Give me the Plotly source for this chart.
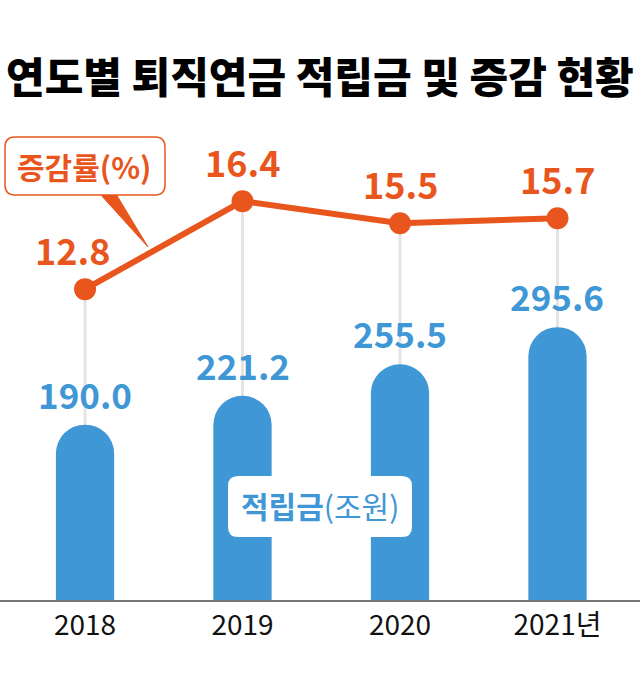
import plotly.graph_objects as go

years = ["2018", "2019", "2020", "2021년"]
reserve = [190.0, 221.2, 255.5, 295.6]      # 적립금(조원)
growth = [12.8, 16.4, 15.5, 15.7]           # 증감률(%)

title_text = "연도별 퇴직연금 적립금 및 증감 현황"
growth_label = "증감률(%)"
reserve_label = "<b>적립금</b>(조원)"

BLUE = "#3f97d6"
ORANGE = "#e8561e"
FONT = "Noto Sans CJK KR"

W, H = 640, 675
ML, MR, MT, MB = 0, 0, 100, 75
PH = H - MT - MB


def px_x(px):
    return (px - ML) / (W - ML - MR)


def px_y(py):
    return (H - MB - py) / PH


xs = list(range(len(years)))

fig = go.Figure()

fig.add_trace(go.Bar(
    x=xs, y=reserve, yaxis="y", width=0.37,
    marker=dict(color=BLUE, cornerradius="50%", line=dict(width=0)),
    showlegend=False, hoverinfo="skip",
))

fig.add_trace(go.Scatter(
    x=xs, y=growth, yaxis="y2", mode="lines+markers",
    line=dict(color=ORANGE, width=6),
    marker=dict(color=ORANGE, size=22),
    showlegend=False, hoverinfo="skip",
))

shapes = []
for x, g in zip(xs, growth):
    shapes.append(dict(type="line", xref="x", yref="y2", x0=x, x1=x, y0=0, y1=g,
                       line=dict(color="#e4e4e4", width=3), layer="below"))

shapes.append(dict(type="path", xref="paper", yref="paper",
                   path=f"M {px_x(100)},{px_y(194)} L {px_x(148)},{px_y(247)} L {px_x(116)},{px_y(194)} Z",
                   fillcolor=ORANGE, line=dict(color=ORANGE, width=1), layer="above"))


def rounded(x0p, x1p, y0p, y1p, r=10):
    x0, x1, y0, y1 = px_x(x0p), px_x(x1p), px_y(y1p), px_y(y0p)
    rx, ry = r / (W - ML - MR), r / PH
    return (f"M {x0+rx},{y0} L {x1-rx},{y0} Q {x1},{y0} {x1},{y0+ry} L {x1},{y1-ry} "
            f"Q {x1},{y1} {x1-rx},{y1} L {x0+rx},{y1} Q {x0},{y1} {x0},{y1-ry} "
            f"L {x0},{y0+ry} Q {x0},{y0} {x0+rx},{y0} Z")


shapes.append(dict(type="path", xref="paper", yref="paper", path=rounded(5, 165, 137, 195),
                   fillcolor="white", line=dict(color=ORANGE, width=1.5), layer="above"))
shapes.append(dict(type="path", xref="paper", yref="paper", path=rounded(228, 412, 476, 537),
                   fillcolor="white", line=dict(color="white", width=0), layer="above"))

annotations = []
annotations.append(dict(xref="paper", yref="paper", x=0.5, y=px_y(75), text=title_text,
                        showarrow=False, font=dict(family=FONT, size=42, color="black", weight=900),
                        xanchor="center", yanchor="middle"))
annotations.append(dict(xref="paper", yref="paper", x=px_x(84), y=px_y(166), text=f"<b>{growth_label}</b>",
                        showarrow=False, font=dict(family=FONT, size=30, color=ORANGE),
                        xanchor="center", yanchor="middle"))
annotations.append(dict(xref="paper", yref="paper", x=px_x(320), y=px_y(505), text=reserve_label,
                        showarrow=False, font=dict(family=FONT, size=30, color=BLUE),
                        xanchor="center", yanchor="middle"))

for i, (x, g) in enumerate(zip(xs, growth)):
    annotations.append(dict(xref="x", yref="y2", x=x, y=g, text=f"<b>{g:.1f}</b>",
                            showarrow=False, yanchor="bottom", yshift=12,
                            xshift=-13 if i == 0 else 0,
                            font=dict(family=FONT, size=36, color=ORANGE)))
for x, v in zip(xs, reserve):
    annotations.append(dict(xref="x", yref="y", x=x, y=v, text=f"<b>{v:.1f}</b>",
                            showarrow=False, yanchor="bottom", yshift=4,
                            font=dict(family=FONT, size=35, color=BLUE)))

fig.update_layout(
    width=W, height=H,
    margin=dict(l=ML, r=MR, t=MT, b=MB),
    paper_bgcolor="white", plot_bgcolor="white",
    xaxis=dict(range=[-0.54, 3.524], tickvals=xs, ticktext=years,
               showgrid=False, zeroline=False, showline=True, linecolor="#777", linewidth=1.5,
               ticks="", tickfont=dict(family=FONT, size=28, color="#111"), fixedrange=True),
    yaxis=dict(range=[0, 541.7], visible=False, showgrid=False, zeroline=False),
    yaxis2=dict(range=[0.08, 20.54], overlaying="y", visible=False, showgrid=False, zeroline=False),
    shapes=shapes, annotations=annotations,
)

fig.write_html("out.html", config={"displayModeBar": False},
               post_script="document.body.style.margin='0';")
